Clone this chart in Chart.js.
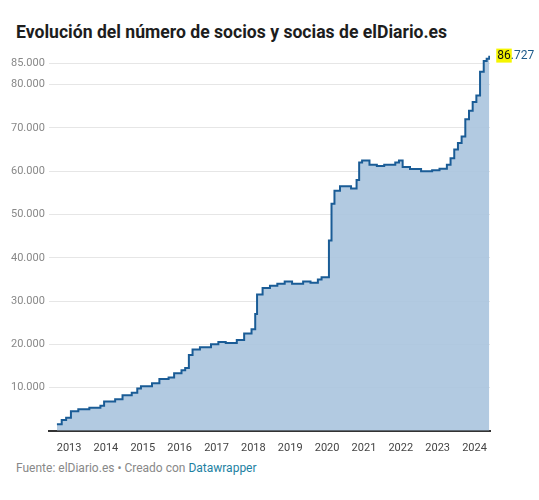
<!DOCTYPE html>
<html><head><meta charset="utf-8">
<script src="https://cdn.jsdelivr.net/npm/chart.js@4"></script>
<style>
body{margin:0;background:#fff;font-family:Roboto,sans-serif;}
#t{position:absolute;left:16px;top:22px;font-size:17.6px;font-weight:bold;color:#1d1d1d;}
#f{position:absolute;left:16px;top:461px;font-size:12px;color:#888;}
#f span{color:#1d81a2;}
#w{position:absolute;left:0;top:45px;width:539px;height:413px;}
</style></head><body>
<div id="t">Evolución del número de socios y socias de elDiario.es</div>
<div id="w"><canvas id="c"></canvas></div>
<div id="f">Fuente: elDiario.es • Creado con <span>Datawrapper</span></div>
<script>
const dates=[2012.67,2012.8,2012.92,2013.05,2013.25,2013.55,2013.85,2013.95,2014.25,2014.45,2014.7,2014.85,2014.95,2015.25,2015.45,2015.7,2015.85,2016.05,2016.15,2016.25,2016.35,2016.55,2016.85,2017.05,2017.25,2017.55,2017.75,2017.95,2018.05,2018.1,2018.25,2018.45,2018.65,2018.85,2019.05,2019.35,2019.55,2019.75,2019.85,2020.05,2020.12,2020.2,2020.35,2020.65,2020.8,2020.87,2020.95,2021.15,2021.35,2021.55,2021.85,2021.95,2022.05,2022.25,2022.55,2022.85,2023.05,2023.25,2023.35,2023.45,2023.55,2023.65,2023.75,2023.85,2023.95,2024.05,2024.15,2024.25,2024.33,2024.4];
const socios=[1500,2500,3000,4500,5000,5300,5800,6800,7300,8200,8800,9800,10300,11000,12000,12300,13300,14000,14500,17500,18800,19300,20000,20500,20300,21000,22500,23500,27000,31500,33000,33500,34000,34500,34000,34500,34200,35000,35500,44000,52500,55500,56500,56000,58000,62000,62500,61500,61200,61500,62000,62500,61000,60500,60000,60200,60600,61500,63000,65000,66500,68000,72000,74000,76000,77500,83000,85500,86000,86727];
const yTicks=[10000,20000,30000,40000,50000,60000,70000,80000,85000];
const xTicks=[2013,2014,2015,2016,2017,2018,2019,2020,2021,2022,2023,2024];
const fmt=v=>v.toLocaleString('de-DE');
const endLabel={id:'end',afterDatasetsDraw(ch){const m=ch.getDatasetMeta(0).data;const p=m[m.length-1];const c=ch.ctx;c.save();c.font='12px Roboto';c.textBaseline='middle';const a='86',b='.727';const w=c.measureText(a).width;const x=p.x+8;c.fillStyle='#f5f500';c.fillRect(x-1,p.y-7,w+2,14);c.fillStyle='#111';c.fillText(a,x,p.y);c.fillStyle='#1d5a8a';c.fillText(b,x+w,p.y);c.restore();}};
new Chart(document.getElementById('c'),{type:'line',
data:{datasets:[{data:dates.map((d,i)=>({x:d,y:socios[i]})),stepped:'before',borderColor:'#1a5c96',borderWidth:2,backgroundColor:'rgba(170,196,222,0.9)',fill:'origin',pointRadius:0}]},
options:{responsive:true,maintainAspectRatio:false,animation:false,
layout:{padding:{left:7,right:49,top:10,bottom:0}},
plugins:{legend:{display:false},tooltip:{enabled:false}},
scales:{x:{type:'linear',min:2012.45,max:2024.42,afterBuildTicks:a=>{a.ticks=xTicks.map(v=>({value:v}))},
ticks:{callback:v=>String(v),color:'#444',font:{family:'Roboto',size:11},maxRotation:0,autoSkip:false},
grid:{display:false,drawTicks:true},border:{color:'#333',width:2}},
y:{min:0,max:86727,afterBuildTicks:a=>{a.ticks=yTicks.map(v=>({value:v}))},
ticks:{callback:v=>fmt(v),color:'#888',font:{family:'Roboto',size:11},padding:4},
grid:{color:'#e6e6e6',drawTicks:false},border:{display:false}}}},
plugins:[endLabel]});
</script></body></html>
